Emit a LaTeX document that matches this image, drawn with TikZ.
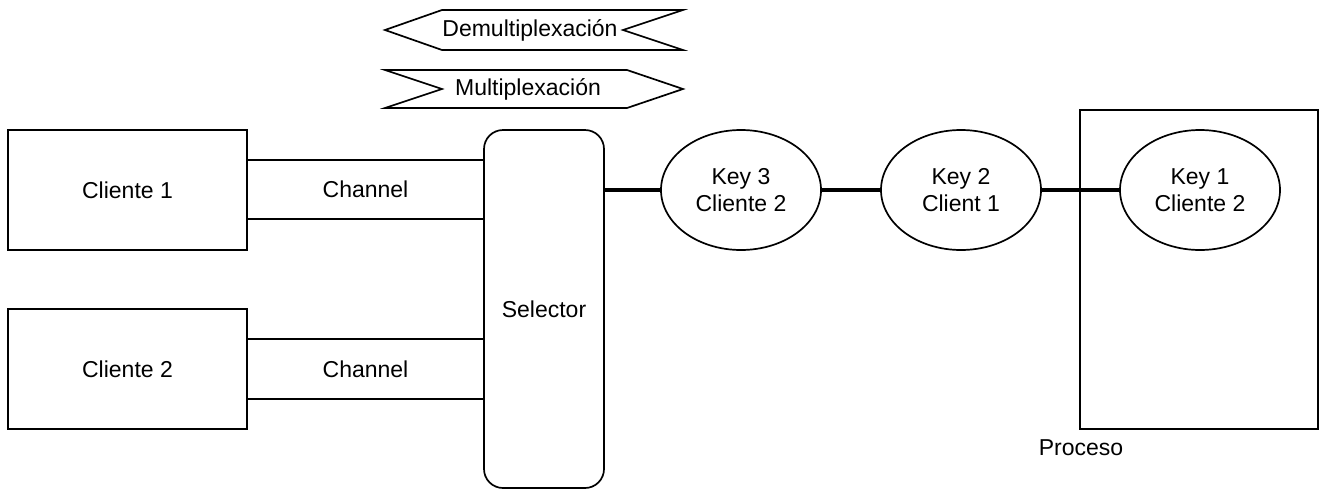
\documentclass[tikz,border=0pt]{standalone}
\usepackage{fontspec}
\setmainfont{Liberation Sans}
\usetikzlibrary{shapes.geometric}
\begin{document}
\begin{tikzpicture}[x=1pt,y=-1pt,
  every node/.style={font=\fontsize{23}{27}\selectfont, inner sep=0pt},
  thinline/.style={line width=1.7pt, line join=miter},
  box/.style={draw, line width=1.7pt, rectangle},
  keyell/.style={draw, ellipse, line width=1.7pt, minimum width=160pt, minimum height=120pt, align=center},
  link/.style={line width=3.4pt},
  chan/.style={rectangle, minimum width=237pt}]
\useasboundingbox (0,0) rectangle (1326,491);

% banners
\draw[thinline] (442,10) -- (683,10) -- (623,30) -- (683,50) -- (442,50) -- (385,30) -- cycle;
\node (demux) at (530,30) {Demultiplexación};
\draw[thinline] (385,70) -- (627,70) -- (683,89) -- (627,108) -- (385,108) -- (442,89) -- cycle;
\node (mux) at (528,89) {Multiplexación};

% clients
\node[box, minimum width=239pt, minimum height=120pt] (c1) at (127.5,190) {Cliente 1};
\node[box, minimum width=239pt, minimum height=120pt] (c2) at (127.5,369) {Cliente 2};

% channels
\node[chan, minimum height=59pt] (ch1) at (365.5,189.5) {Channel};
\node[chan, minimum height=60pt] (ch2) at (365.5,369) {Channel};
\draw[thinline] (ch1.north west) -- (ch1.north east);
\draw[thinline] (ch1.south west) -- (ch1.south east);
\draw[thinline] (ch2.north west) -- (ch2.north east);
\draw[thinline] (ch2.south west) -- (ch2.south east);

% selector
\node[draw, rounded corners=19pt, line width=1.7pt, minimum width=120pt, minimum height=358pt] (sel) at (544,309) {Selector};

% proceso
\node[box, minimum width=238pt, minimum height=319pt] (proc) at (1199,269.5) {};
\node (proclbl) at (1081,448) {Proceso};

% keys
\node[keyell] (k3) at (741,190) {Key 3\\Cliente 2};
\node[keyell] (k2) at (961,190) {Key 2\\Client 1};
\node[keyell] (k1) at (1200,190) {Key 1\\Cliente 2};

\draw[link] (k3.west -| sel.east) -- (k3.west);
\draw[link] (k3.east) -- (k2.west);
\draw[link] (k2.east) -- (k1.west);
\end{tikzpicture}
\end{document}
